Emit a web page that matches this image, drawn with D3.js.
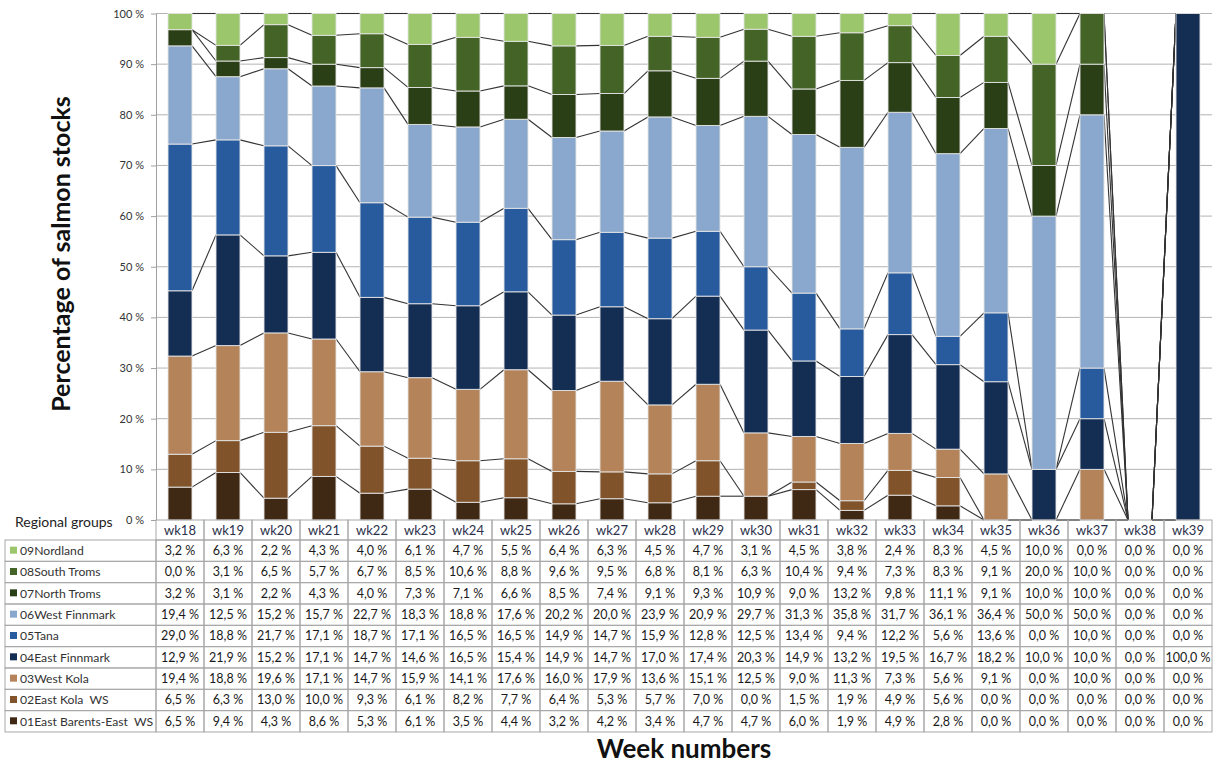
<!DOCTYPE html>
<html>
<head>
<meta charset="utf-8">
<script src="https://cdn.jsdelivr.net/npm/d3@7"></script>
<style>
  html, body { margin: 0; padding: 0; background: #fff; }
  svg { display: block; font-family: Lato, "Liberation Sans", sans-serif; }
  text { white-space: pre; }
</style>
</head>
<body>
<svg id="chart" width="1216" height="765"></svg>
<script>
// ---- data ----
const weeks = ["wk18","wk19","wk20","wk21","wk22","wk23","wk24","wk25","wk26","wk27","wk28","wk29","wk30","wk31","wk32","wk33","wk34","wk35","wk36","wk37","wk38","wk39"];

// series in stacking order (bottom -> top)
const seriesNames = ["01East Barents-East  WS","02East Kola  WS","03West Kola","04East Finnmark","05Tana","06West Finnmark","07North Troms","08South Troms","09Nordland"];

const eastBarents  = [6.5, 9.4, 4.3, 8.6, 5.3, 6.1, 3.5, 4.4, 3.2, 4.2, 3.4, 4.7, 4.7, 6.0, 1.9, 4.9, 2.8, 0.0, 0.0, 0.0, 0.0, 0.0];
const eastKola     = [6.5, 6.3, 13.0, 10.0, 9.3, 6.1, 8.2, 7.7, 6.4, 5.3, 5.7, 7.0, 0.0, 1.5, 1.9, 4.9, 5.6, 0.0, 0.0, 0.0, 0.0, 0.0];
const westKola     = [19.4, 18.8, 19.6, 17.1, 14.7, 15.9, 14.1, 17.6, 16.0, 17.9, 13.6, 15.1, 12.5, 9.0, 11.3, 7.3, 5.6, 9.1, 0.0, 10.0, 0.0, 0.0];
const eastFinnmark = [12.9, 21.9, 15.2, 17.1, 14.7, 14.6, 16.5, 15.4, 14.9, 14.7, 17.0, 17.4, 20.3, 14.9, 13.2, 19.5, 16.7, 18.2, 10.0, 10.0, 0.0, 100.0];
const tana         = [29.0, 18.8, 21.7, 17.1, 18.7, 17.1, 16.5, 16.5, 14.9, 14.7, 15.9, 12.8, 12.5, 13.4, 9.4, 12.2, 5.6, 13.6, 0.0, 10.0, 0.0, 0.0];
const westFinnmark = [19.4, 12.5, 15.2, 15.7, 22.7, 18.3, 18.8, 17.6, 20.2, 20.0, 23.9, 20.9, 29.7, 31.3, 35.8, 31.7, 36.1, 36.4, 50.0, 50.0, 0.0, 0.0];
const northTroms   = [3.2, 3.1, 2.2, 4.3, 4.0, 7.3, 7.1, 6.6, 8.5, 7.4, 9.1, 9.3, 10.9, 9.0, 13.2, 9.8, 11.1, 9.1, 10.0, 10.0, 0.0, 0.0];
const southTroms   = [0.0, 3.1, 6.5, 5.7, 6.7, 8.5, 10.6, 8.8, 9.6, 9.5, 6.8, 8.1, 6.3, 10.4, 9.4, 7.3, 8.3, 9.1, 20.0, 10.0, 0.0, 0.0];
const nordland     = [3.2, 6.3, 2.2, 4.3, 4.0, 6.1, 4.7, 5.5, 6.4, 6.3, 4.5, 4.7, 3.1, 4.5, 3.8, 2.4, 8.3, 4.5, 10.0, 0.0, 0.0, 0.0];

const seriesValues = [eastBarents, eastKola, westKola, eastFinnmark, tana, westFinnmark, northTroms, southTroms, nordland];
const seriesColors = ["#402914","#80532a","#b4835a","#132d53","#285b9e","#8aa8ce","#2a3f16","#446326","#9bc66c"];
const yTicks = [0,10,20,30,40,50,60,70,80,90,100];

// ---- layout ----
const svg = d3.select("#chart");
const plotL = 156, plotR = 1212, plotT = 13.5, plotB = 520;
const tableL = 5, rowH = 21.33, headT = 520, headB = 540;

const x = d3.scaleBand().domain(weeks).range([plotL, plotR]).paddingInner(0.5).paddingOuter(0.25);
const y = d3.scaleLinear().domain([0, 100]).range([plotB, plotT]);

// build 100%-stacked table
const rows = weeks.map((w, i) => {
  const r = { week: w };
  let total = 0;
  seriesNames.forEach((s, k) => { r[s] = seriesValues[k][i]; total += seriesValues[k][i]; });
  seriesNames.forEach(s => { r[s] = total > 0 ? r[s] / total * 100 : 0; });
  return r;
});
const stacked = d3.stack().keys(seriesNames)(rows);

// gridlines
svg.append("g").selectAll("line").data(yTicks.filter(d => d > 0)).join("line")
  .attr("x1", plotL).attr("x2", plotR)
  .attr("y1", d => y(d)).attr("y2", d => y(d))
  .attr("stroke", "#b3b3b3").attr("stroke-width", 1);

// y axis
const yAxis = svg.append("g").attr("transform", `translate(${plotL},0)`)
  .call(d3.axisLeft(y).tickValues(yTicks).tickFormat(d => d + " %").tickSize(5).tickSizeOuter(0).tickPadding(7));
yAxis.select(".domain").attr("stroke", "#a0a0a0");
yAxis.selectAll(".tick line").attr("stroke", "#a0a0a0");
yAxis.selectAll(".tick text").attr("font-size", 11).attr("fill", "#333").attr("font-family", "Lato, sans-serif");

// series lines
const bw = x.bandwidth();
const lineG = svg.append("g");
stacked.forEach(layer => {
  for (let i = 0; i < weeks.length - 1; i++) {
    lineG.append("line")
      .attr("x1", x(weeks[i]) + bw).attr("y1", y(layer[i][1]))
      .attr("x2", x(weeks[i + 1])).attr("y2", y(layer[i + 1][1]))
      .attr("stroke", "#333").attr("stroke-width", 1.1);
  }
});

// bars
const barG = svg.append("g");
stacked.forEach((layer, k) => {
  barG.append("g").selectAll("rect").data(layer.filter(d => d[1] - d[0] > 0)).join("rect")
    .attr("x", d => x(d.data.week))
    .attr("width", bw)
    .attr("y", d => y(d[1]))
    .attr("height", d => y(d[0]) - y(d[1]))
    .attr("fill", seriesColors[k])
    .attr("stroke", "#e4e4e4").attr("stroke-width", 0.9);
});

// ---- data table ----
const tab = svg.append("g").attr("font-size", 12.5).attr("fill", "#222");
const gridColor = "#a8a8a8";

// header row (week columns)
weeks.forEach(w => {
  const cx = x(w) + bw / 2;
  const colL = cx - x.step() / 2;
  tab.append("rect").attr("x", colL).attr("y", headT).attr("width", x.step()).attr("height", headB - headT)
    .attr("fill", "none").attr("stroke", gridColor);
  tab.append("text").attr("x", cx).attr("y", (headT + headB) / 2 + 4.5)
    .attr("text-anchor", "middle").attr("fill", "#2b2f4a").attr("font-size", 13).text(w);
});
tab.append("text").attr("x", 15).attr("y", 527).attr("font-size", 14).attr("fill", "#222").text("Regional groups");

// body rows (top row = last series)
const displayOrder = seriesNames.slice().reverse();
const displayVals = seriesValues.slice().reverse();
const displayCols = seriesColors.slice().reverse();
displayOrder.forEach((name, r) => {
  const rt = headB + r * rowH;
  tab.append("rect").attr("x", tableL).attr("y", rt).attr("width", plotL - tableL).attr("height", rowH)
    .attr("fill", "none").attr("stroke", gridColor);
  tab.append("rect").attr("x", 10).attr("y", rt + rowH / 2 - 4).attr("width", 7).attr("height", 7)
    .attr("fill", displayCols[r]);
  tab.append("text").attr("x", 20).attr("y", rt + rowH / 2 + 4.5).attr("fill", "#333")
    .attr("font-size", 12.2).text(name);
  weeks.forEach((w, i) => {
    const cx = x(w) + bw / 2;
    const colL = cx - x.step() / 2;
    tab.append("rect").attr("x", colL).attr("y", rt).attr("width", x.step()).attr("height", rowH)
      .attr("fill", "none").attr("stroke", gridColor);
    tab.append("text").attr("x", cx).attr("y", rt + rowH / 2 + 4.5).attr("text-anchor", "middle")
      .attr("fill", "#1a1a1a").text(d3.format(".1f")(displayVals[r][i]).replace(".", ",") + " %");
  });
});

// titles
svg.append("text").attr("x", 684).attr("y", 758).attr("text-anchor", "middle")
  .attr("font-size", 26).attr("font-weight", "bold").attr("fill", "#111").text("Week numbers");
svg.append("text").attr("transform", "translate(70,254) rotate(-90)").attr("text-anchor", "middle")
  .attr("font-size", 25).attr("font-weight", "bold").attr("fill", "#111").text("Percentage of salmon stocks");
</script>
</body>
</html>
